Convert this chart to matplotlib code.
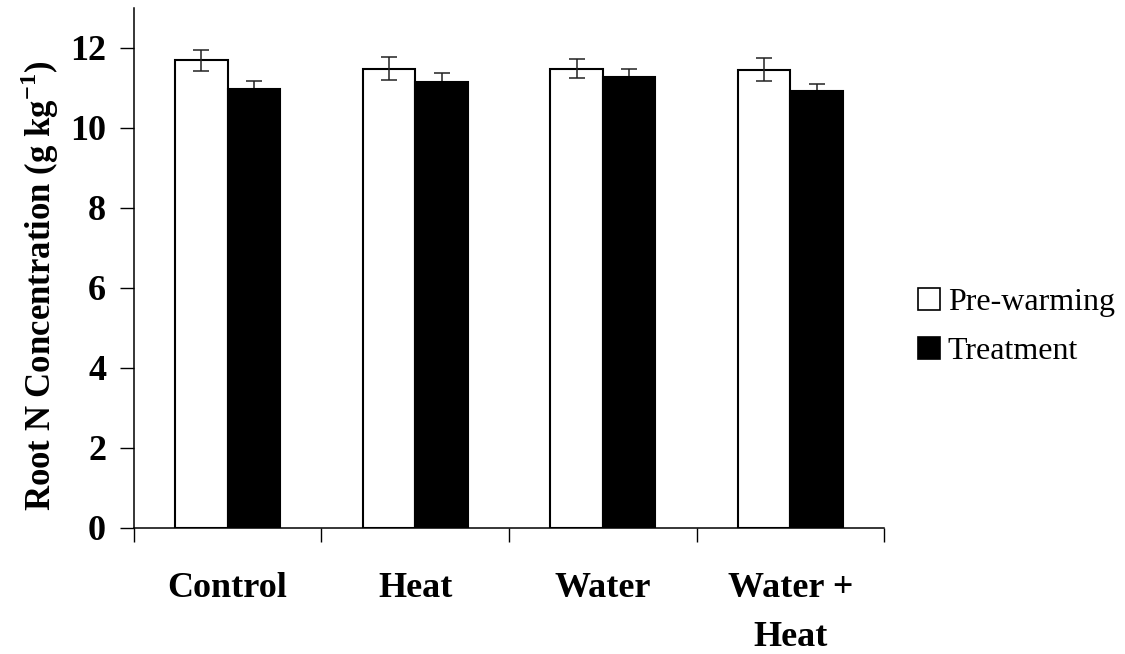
import matplotlib.pyplot as plt
import numpy as np
from matplotlib.patches import Rectangle

groups = ['Control', 'Heat', 'Water', 'Water +\nHeat']
pre = [11.69, 11.48, 11.48, 11.45]
pre_err = [0.26, 0.28, 0.24, 0.29]
trt = [10.98, 11.15, 11.26, 10.91]
trt_err = [0.20, 0.23, 0.22, 0.19]

plt.rcParams['font.family'] = 'Liberation Serif'
plt.rcParams['mathtext.fontset'] = 'custom'
plt.rcParams['mathtext.rm'] = 'Liberation Serif'
plt.rcParams['mathtext.bf'] = 'Liberation Serif:bold'

fig = plt.figure(figsize=(11.25, 6.54), dpi=100)
ax = fig.add_axes([0.119, 0.193, 0.667, 0.795])

x = np.arange(len(groups))
w = 0.28
ax.bar(x - w/2, pre, w, color='white', edgecolor='black', linewidth=1.5, zorder=2)
ax.bar(x + w/2, trt, w, color='black', edgecolor='black', linewidth=1.5, zorder=2)
ax.errorbar(x - w/2, pre, yerr=pre_err, fmt='none', ecolor='#222222',
            elinewidth=1.1, capsize=6, capthick=1.1, zorder=3)
# lower half sits behind the black bars
ax.errorbar(x + w/2, trt, yerr=trt_err, fmt='none', ecolor='#222222',
            elinewidth=1.1, capsize=6, capthick=1.1, zorder=1)

ax.set_xlim(-0.5, len(groups) - 0.5)
ax.set_ylim(0, 13)
ax.set_yticks(np.arange(0, 13, 2))
ax.set_xticks(x)
ax.set_xticklabels(groups, fontsize=26, fontweight='bold', linespacing=1.65)
ax.set_xticks(np.arange(-0.5, len(groups), 1), minor=True)
ax.tick_params(axis='x', which='major', length=0, pad=32)
ax.tick_params(axis='x', which='minor', length=10, width=1, direction='out')
ax.tick_params(axis='y', length=10, width=1, direction='out', labelsize=26, pad=10)
for lab in ax.get_yticklabels():
    lab.set_fontweight('bold')

for s in ['top', 'right']:
    ax.spines[s].set_visible(False)
for s in ['left', 'bottom']:
    ax.spines[s].set_linewidth(1.1)

ax.set_ylabel('Root N Concentration (g kg$^{\\mathbf{-1}}$)', fontsize=25,
              fontweight='bold')
ax.yaxis.set_label_coords(-0.097, 0.465)

handles = [Rectangle((0, 0), 1, 1, facecolor='white', edgecolor='black', linewidth=1.2),
           Rectangle((0, 0), 1, 1, facecolor='black', edgecolor='black', linewidth=1.2)]
fig.legend(handles, ['Pre-warming', 'Treatment'], loc='center left',
           bbox_to_anchor=(0.79, 0.50), frameon=False, fontsize=23,
           handlelength=0.7, handleheight=0.7, handletextpad=0.25,
           labelspacing=0.6)

fig.savefig('out.png', dpi=100)
